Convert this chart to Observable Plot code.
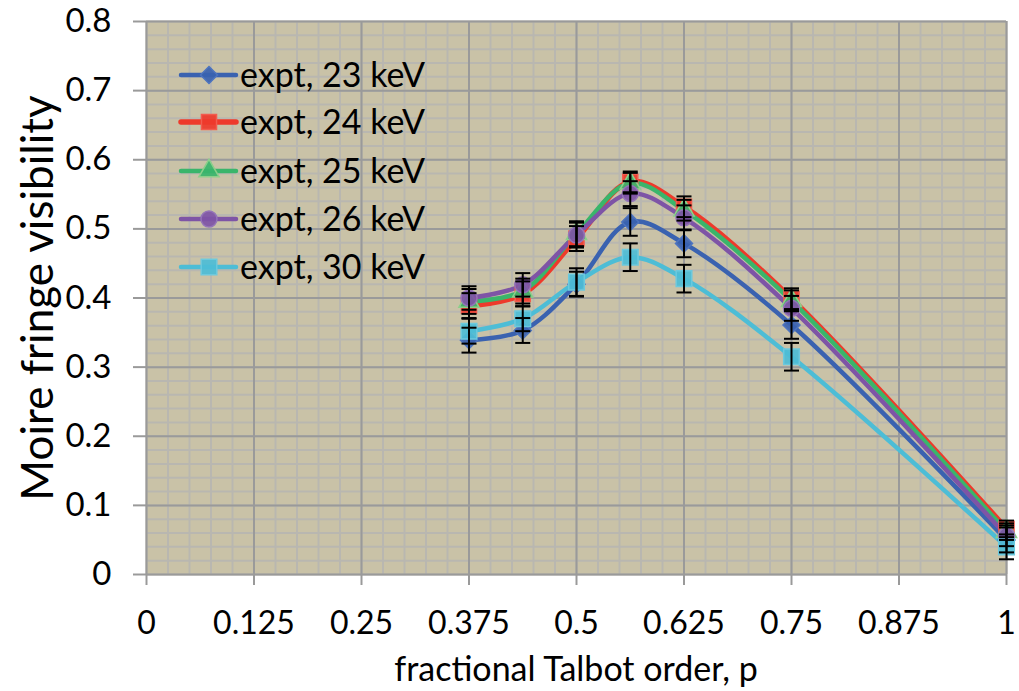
<!DOCTYPE html>
<html>
<head>
<meta charset="utf-8">
<script src="https://cdn.jsdelivr.net/npm/d3@7"></script>
<script src="https://cdn.jsdelivr.net/npm/@observablehq/plot@0.6"></script>
<style>
  html, body { margin: 0; padding: 0; background: #fff; }
  #chart { width: 1019px; height: 691px; position: relative; }
</style>
</head>
<body>
<div id="chart"></div>
<script>
// ---- data ----
const talbotOrder = [0.375, 0.4375, 0.5, 0.5625, 0.625, 0.75, 1];
const seriesNames = ["expt, 23 keV", "expt, 24 keV", "expt, 25 keV", "expt, 26 keV", "expt, 30 keV"];
const kev23 = [0.339, 0.353, 0.420, 0.510, 0.479, 0.361, 0.050];
const kev24 = [0.389, 0.406, 0.486, 0.568, 0.532, 0.399, 0.066];
const kev25 = [0.395, 0.410, 0.493, 0.566, 0.527, 0.396, 0.062];
const kev26 = [0.400, 0.419, 0.491, 0.551, 0.516, 0.385, 0.056];
const kev30 = [0.352, 0.370, 0.423, 0.459, 0.428, 0.315, 0.040];
const err23 = [0.018, 0.018, 0.018, 0.020, 0.020, 0.020, 0.018];
const err24 = [0.018, 0.018, 0.018, 0.015, 0.015, 0.015, 0.012];
const err25 = [0.018, 0.018, 0.018, 0.015, 0.015, 0.015, 0.012];
const err26 = [0.017, 0.017, 0.018, 0.018, 0.018, 0.018, 0.015];
const err30 = [0.018, 0.018, 0.020, 0.020, 0.020, 0.020, 0.018];
const xTicks = [0, 0.125, 0.25, 0.375, 0.5, 0.625, 0.75, 0.875, 1];
const xTickLabels = ["0", "0.125", "0.25", "0.375", "0.5", "0.625", "0.75", "0.875", "1"];
const yTicks = [0, 0.1, 0.2, 0.3, 0.4, 0.5, 0.6, 0.7, 0.8];
const yTickLabels = ["0", "0.1", "0.2", "0.3", "0.4", "0.5", "0.6", "0.7", "0.8"];
const xMinor = d3.range(0, 41).map(i => i / 40);
const yMinor = d3.range(0, 41).map(i => i / 50);
const seriesValues = [kev23, kev24, kev25, kev26, kev30];
const seriesErrors = [err23, err24, err25, err26, err30];

// ---- styles ----
const colors = ["#3a62b0", "#ee3a2b", "#3ab56b", "#7e54a6", "#4dbdd6"];
const markerStroke = ["#4d74bf", "#f25c4f", "#8ccf8a", "#9474b8", "#6cc9de"];
const diamond = {
  draw(ctx, size) {
    const h = Math.sqrt(size / Math.PI);
    ctx.moveTo(0, -h); ctx.lineTo(h, 0); ctx.lineTo(0, h); ctx.lineTo(-h, 0); ctx.closePath();
  }
};
const capSymbol = {
  draw(ctx, size) {
    const h = Math.sqrt(size / Math.PI);
    ctx.moveTo(-h, 0); ctx.lineTo(h, 0);
  }
};
const symbols = [diamond, "square", "triangle", "circle", "square"];
const symbolR = [8.5, 8.5, 7.5, 8, 8.8];
const lineWidths = [4.5, 5.5, 4.5, 4.5, 4.5];

const table = [];
seriesNames.forEach((s, i) => {
  talbotOrder.forEach((x, j) => {
    table.push({series: s, idx: i, x, y: seriesValues[i][j], e: seriesErrors[i][j]});
  });
});

const fontFamily = "Lato, 'Open Sans', sans-serif";
const majorColor = "#9a9a9a";
const minorColor = "#b9b7b0";

const marks = [
  Plot.frame({fill: "#c9c2a7", stroke: null}),
  Plot.ruleX(xMinor, {stroke: minorColor, strokeWidth: 2}),
  Plot.ruleY(yMinor, {stroke: minorColor, strokeWidth: 2}),
  Plot.ruleX(xTicks, {stroke: majorColor, strokeWidth: 2}),
  Plot.ruleY(yTicks, {stroke: majorColor, strokeWidth: 2}),
  Plot.axisX({ticks: xTicks, tickFormat: d => xTickLabels[xTicks.indexOf(d)], tickSize: 11, tickPadding: 26,
    fontSize: 32, stroke: majorColor, strokeWidth: 2, label: null, fill: "#000"}),
  Plot.axisY({ticks: yTicks, tickFormat: d => yTickLabels[yTicks.indexOf(d)], tickSize: 13, tickPadding: 22,
    fontSize: 33, stroke: majorColor, strokeWidth: 2, label: null, fill: "#000"}),
];
seriesNames.forEach((s, i) => {
  const rows = table.filter(r => r.idx === i);
  marks.push(Plot.line(rows, {x: "x", y: "y", stroke: colors[i], strokeWidth: lineWidths[i], curve: "catmull-rom"}));
});
seriesNames.forEach((s, i) => {
  const rows = table.filter(r => r.idx === i);
  marks.push(Plot.dot(rows, {x: "x", y: "y", symbol: symbols[i], r: symbolR[i], fill: colors[i],
    stroke: markerStroke[i], strokeWidth: 1.5, fillOpacity: 0.92}));
});
seriesNames.forEach((s, i) => {
  const rows = table.filter(r => r.idx === i);
  marks.push(Plot.ruleX(rows, {x: "x", y1: r => r.y - r.e, y2: r => r.y + r.e, stroke: "#000", strokeWidth: 2}));
  marks.push(Plot.dot(rows, {x: "x", y: r => r.y - r.e, symbol: capSymbol, r: 7.5, stroke: "#000", strokeWidth: 2, fill: "none"}));
  marks.push(Plot.dot(rows, {x: "x", y: r => r.y + r.e, symbol: capSymbol, r: 7.5, stroke: "#000", strokeWidth: 2, fill: "none"}));
});

const plot = Plot.plot({
  width: 1019,
  height: 691,
  marginLeft: 146,
  marginRight: 13,
  marginTop: 21,
  marginBottom: 117,
  style: {fontFamily, background: "#fff", color: "#000"},
  x: {domain: [0, 1]},
  y: {domain: [0, 0.8]},
  marks
});
document.getElementById("chart").appendChild(plot);

// ---- labels & legend ----
const svg = d3.select(plot);
svg.append("text")
  .attr("transform", "translate(53,298) rotate(-90)")
  .attr("text-anchor", "middle")
  .style("font-family", fontFamily).style("font-size", "44px").attr("fill", "#000")
  .text("Moire fringe visibility");
svg.append("text")
  .attr("x", 576).attr("y", 681)
  .attr("text-anchor", "middle")
  .style("font-family", fontFamily).style("font-size", "34px").attr("fill", "#000")
  .text("fractional Talbot order, p");

const legendRows = [75, 122, 171, 219, 267];
const lg = svg.append("g").attr("text-anchor", "start");
seriesNames.forEach((s, i) => {
  const y = legendRows[i];
  lg.append("line").attr("x1", 181).attr("x2", 236).attr("y1", y).attr("y2", y)
    .attr("stroke", colors[i]).attr("stroke-width", lineWidths[i]).attr("stroke-linecap", "round");
  const sym = typeof symbols[i] === "string"
    ? {square: d3.symbolSquare, triangle: d3.symbolTriangle, circle: d3.symbolCircle}[symbols[i]]
    : symbols[i];
  lg.append("path").attr("transform", `translate(209,${y})`)
    .attr("d", d3.symbol(sym, Math.PI * symbolR[i] * symbolR[i])())
    .attr("fill", colors[i]).attr("stroke", markerStroke[i]).attr("stroke-width", 1.5).attr("fill-opacity", 0.92);
  lg.append("text").attr("x", 240).attr("y", y).attr("dy", "0.35em")
    .attr("text-anchor", "start")
    .style("font-family", fontFamily).style("font-size", "34px").attr("fill", "#000")
    .text(s);
});
</script>
</body>
</html>
